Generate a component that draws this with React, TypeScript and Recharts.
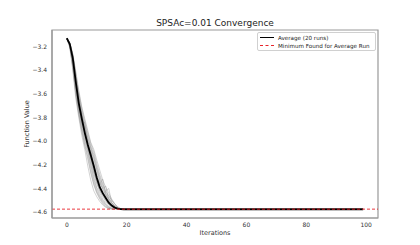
import { LineChart, Line, XAxis, YAxis, ReferenceLine, ReferenceArea } from "recharts";

const iterations = [0, 1, 2, 3, 4, 5, 6, 7, 8, 9, 10, 11, 12, 13, 14, 15, 16, 17, 18, 19, 20, 30, 40, 50, 60, 70, 80, 90, 99];

const average = [
  -3.13, -3.18, -3.3, -3.5, -3.68, -3.81, -3.93, -4.03, -4.12, -4.21, -4.31, -4.39, -4.44, -4.48, -4.52,
  -4.545, -4.562, -4.57, -4.575, -4.576, -4.576, -4.576, -4.576, -4.576, -4.576, -4.576, -4.576, -4.576, -4.576,
];

// individual runs, only the early part (they sit under the average afterwards)
const runs = [
  [-3.13, -3.2, -3.38, -3.61, -3.78, -3.92, -4.04, -4.15, -4.27, -4.37, -4.44, -4.49, -4.53, -4.556, -4.568, -4.574, -4.576],
  [-3.13, -3.19, -3.34, -3.56, -3.73, -3.86, -3.98, -4.07, -4.19, -4.3, -4.39, -4.44, -4.49, -4.525, -4.553, -4.566, -4.573, -4.576],
  [-3.13, -3.17, -3.27, -3.44, -3.61, -3.74, -3.85, -3.95, -4.04, -4.11, -4.21, -4.3, -4.37, -4.43, -4.465, -4.5, -4.53, -4.555, -4.57, -4.576],
  [-3.13, -3.165, -3.26, -3.41, -3.57, -3.71, -3.81, -3.91, -4.01, -4.07, -4.16, -4.245, -4.33, -4.39, -4.44, -4.49, -4.53, -4.56, -4.573, -4.576],
  [-3.13, -3.18, -3.3, -3.5, -3.68, -3.8, -3.92, -4.03, -4.1, -4.21, -4.3, -4.36, -4.4, -4.38, -4.5, -4.54, -4.562, -4.572, -4.576],
  [-3.13, -3.185, -3.31, -3.52, -3.7, -3.82, -3.94, -4.05, -4.14, -4.25, -4.34, -4.41, -4.45, -4.42, -4.4, -4.52, -4.555, -4.57, -4.576],
  [-3.13, -3.2, -3.36, -3.59, -3.76, -3.89, -4.01, -4.1, -4.23, -4.34, -4.42, -4.47, -4.51, -4.54, -4.56, -4.57, -4.576],
  [-3.13, -3.175, -3.28, -3.47, -3.64, -3.77, -3.89, -3.99, -4.07, -4.16, -4.26, -4.35, -4.41, -4.46, -4.49, -4.53, -4.55, -4.566, -4.574, -4.576],
  [-3.13, -3.18, -3.3, -3.5, -3.68, -3.8, -3.92, -4.03, -4.1, -4.21, -4.31, -4.39, -4.44, -4.48, -4.52, -4.545, -4.562, -4.57, -4.576],
  [-3.13, -3.19, -3.33, -3.55, -3.72, -3.86, -3.84, -4.02, -4.16, -4.27, -4.36, -4.42, -4.47, -4.51, -4.54, -4.56, -4.57, -4.576],
  [-3.13, -3.17, -3.275, -3.45, -3.62, -3.76, -3.87, -3.97, -4.05, -4.13, -4.23, -4.32, -4.39, -4.44, -4.48, -4.52, -4.545, -4.563, -4.573, -4.576],
  [-3.13, -3.195, -3.35, -3.57, -3.74, -3.87, -3.99, -4.08, -4.2, -4.32, -4.4, -4.46, -4.5, -4.535, -4.557, -4.57, -4.576],
  [-3.13, -3.17, -3.27, -3.43, -3.59, -3.72, -3.83, -3.93, -4.02, -4.09, -4.19, -4.28, -4.36, -4.42, -4.46, -4.5, -4.535, -4.56, -4.572, -4.576],
  [-3.13, -3.18, -3.31, -3.51, -3.69, -3.81, -3.93, -4.04, -4.12, -4.23, -4.33, -4.4, -4.45, -4.49, -4.53, -4.55, -4.566, -4.574, -4.576],
  [-3.13, -3.178, -3.29, -3.48, -3.66, -3.79, -3.91, -4.01, -4.09, -4.19, -4.29, -4.37, -4.32, -4.45, -4.5, -4.54, -4.56, -4.572, -4.576],
  [-3.13, -3.2, -3.37, -3.6, -3.77, -3.91, -4.03, -4.13, -4.26, -4.36, -4.43, -4.48, -4.52, -4.55, -4.565, -4.573, -4.576],
  [-3.13, -3.172, -3.28, -3.46, -3.63, -3.77, -3.88, -3.98, -4.06, -4.14, -4.24, -4.33, -4.4, -4.45, -4.485, -4.52, -4.548, -4.566, -4.575, -4.576],
  [-3.13, -3.185, -3.32, -3.53, -3.71, -3.83, -3.95, -4.06, -4.15, -4.26, -4.35, -4.42, -4.46, -4.5, -4.535, -4.555, -4.568, -4.575, -4.576],
  [-3.13, -3.178, -3.295, -3.49, -3.67, -3.79, -3.91, -4.02, -4.09, -4.2, -4.3, -4.38, -4.43, -4.47, -4.51, -4.54, -4.558, -4.569, -4.575, -4.576],
  [-3.13, -3.21, -3.4, -3.64, -3.8, -3.95, -4.07, -4.21, -4.33, -4.42, -4.47, -4.51, -4.54, -4.56, -4.57, -4.576],
];

const minimumFound = -4.575;
const xTicks = [0, 20, 40, 60, 80, 100];
const yTicks = [-4.6, -4.4, -4.2, -4.0, -3.8, -3.6, -3.4, -3.2];

const data = iterations.map((it, i) => {
  const row: Record<string, number | undefined> = { iter: it, avg: average[i] };
  runs.forEach((r, k) => {
    row["r" + k] = r[i];
  });
  return row;
});

const font = "'DejaVu Sans', sans-serif";
const fmt = (v: number) => v.toFixed(1).replace("-", "\u2212");

export default function App() {
  return (
    <div style={{ position: "absolute", left: 0, top: 0, width: 420, height: 245, fontFamily: font, background: "#fff" }}>
      <div style={{ position: "absolute", left: 0, width: 430, top: 18, textAlign: "center", fontSize: 9, color: "#222" }}>
        SPSAc=0.01 Convergence
      </div>
      <LineChart width={420} height={245} data={data} margin={{ top: 30, right: 42, bottom: 0, left: 0 }}>
        <XAxis
          dataKey="iter"
          type="number"
          domain={[-4.95, 103.95]}
          ticks={xTicks}
          tickLine={false}
          tickSize={0}
          tickMargin={5}
          height={27}
          axisLine={{ stroke: "#999", strokeWidth: 1.2 }}
          tick={{ fontSize: 6, fill: "#333", fontFamily: font }}
          label={{ value: "Iterations", position: "insideBottom", offset: 10, fontSize: 6.5, fill: "#333", fontFamily: font }}
        />
        <YAxis
          type="number"
          domain={[-4.65, -3.06]}
          ticks={yTicks}
          tickFormatter={fmt}
          tickLine={false}
          tickSize={0}
          tickMargin={5}
          width={52}
          axisLine={{ stroke: "#999", strokeWidth: 1.2 }}
          tick={{ fontSize: 6, fill: "#333", fontFamily: font }}
          label={{ value: "Function Value", angle: -90, position: "center", dx: 1, fontSize: 6.5, fill: "#333", fontFamily: font }}
        />
        <ReferenceArea x1={-4.95} x2={103.95} y1={-4.65} y2={-3.06} fill="none" stroke="#999" strokeWidth={1.2} ifOverflow="visible" />
        {runs.map((_, k) => (
          <Line
            key={k}
            dataKey={"r" + k}
            type="linear"
            stroke="#9a9a9a"
            strokeOpacity={0.55}
            strokeWidth={0.8}
            dot={false}
            isAnimationActive={false}
          />
        ))}
        <Line dataKey="avg" type="linear" stroke="#000" strokeWidth={1.8} dot={false} isAnimationActive={false} />
        <ReferenceLine y={minimumFound} stroke="#e8232a" strokeDasharray="3 2" strokeWidth={0.9} />
      </LineChart>
      <div
        style={{
          position: "absolute",
          left: 257,
          top: 32,
          width: 119,
          height: 19,
          border: "1px solid #d0d0d0",
          borderRadius: 2,
          background: "#fff",
          fontSize: 5.6,
          color: "#222",
          boxSizing: "border-box",
          whiteSpace: "nowrap",
        }}
      >
        <div style={{ position: "absolute", left: 2, top: 1.5, display: "flex", alignItems: "center" }}>
          <div style={{ width: 14, height: 0, borderTop: "1.8px solid #000", marginRight: 4 }} />
          <span>Average (20 runs)</span>
        </div>
        <div style={{ position: "absolute", left: 2, top: 9.5, display: "flex", alignItems: "center" }}>
          <div style={{ width: 14, height: 0, borderTop: "1px dashed #e8232a", marginRight: 4 }} />
          <span>Minimum Found for Average Run</span>
        </div>
      </div>
    </div>
  );
}
